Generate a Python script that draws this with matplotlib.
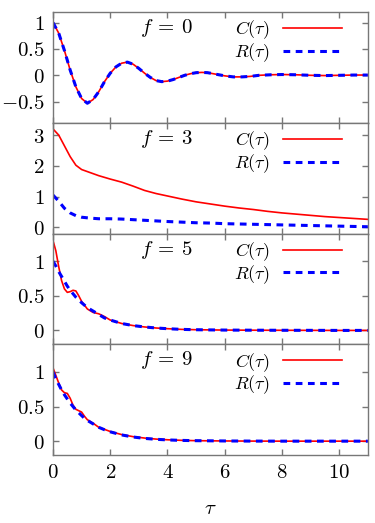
import matplotlib
matplotlib.use('Agg')
import matplotlib.pyplot as plt
import numpy as np
from matplotlib.ticker import FuncFormatter

# 数据
f_values = [0, 3, 5, 9]

# f = 0
t0 = [0.0, 0.2, 0.4, 0.6, 0.8, 1.0, 1.2, 1.4, 1.6, 1.8, 2.0, 2.2, 2.4, 2.6, 2.8, 3.0,
      3.2, 3.4, 3.6, 3.8, 4.0, 4.2, 4.4, 4.6, 4.8, 5.0, 5.2, 5.4, 5.6, 5.8, 6.0, 6.3,
      6.6, 6.9, 7.2, 7.6, 8.0, 8.5, 9.0, 9.5, 10.0, 10.5, 11.0]
c0 = [1.0, 0.80, 0.47, 0.10, -0.22, -0.44, -0.53, -0.46, -0.31, -0.12, 0.04, 0.16,
      0.23, 0.25, 0.21, 0.13, 0.04, -0.04, -0.10, -0.12, -0.11, -0.08, -0.04, 0.0,
      0.03, 0.05, 0.055, 0.05, 0.03, 0.01, -0.01, -0.03, -0.03, -0.02, 0.0, 0.01,
      0.015, 0.01, 0.0, -0.005, 0.0, 0.005, 0.005]
r0 = [1.0, 0.80, 0.47, 0.10, -0.22, -0.44, -0.53, -0.46, -0.31, -0.12, 0.04, 0.16,
      0.23, 0.25, 0.21, 0.13, 0.04, -0.04, -0.10, -0.12, -0.11, -0.08, -0.04, 0.0,
      0.03, 0.05, 0.055, 0.05, 0.03, 0.01, -0.01, -0.03, -0.03, -0.02, 0.0, 0.01,
      0.015, 0.01, 0.0, -0.005, 0.0, 0.005, 0.005]

# f = 3
t3 = [0.0, 0.2, 0.4, 0.6, 0.8, 1.0, 1.3, 1.6, 2.0, 2.4, 2.8, 3.2, 3.6, 4.0, 4.5,
      5.0, 5.5, 6.0, 6.5, 7.0, 7.5, 8.0, 8.5, 9.0, 9.5, 10.0, 10.5, 11.0]
c3 = [3.2, 3.0, 2.65, 2.3, 2.02, 1.88, 1.78, 1.68, 1.57, 1.47, 1.34, 1.2, 1.1, 1.02,
      0.92, 0.83, 0.76, 0.69, 0.63, 0.58, 0.52, 0.47, 0.43, 0.39, 0.35, 0.32, 0.29, 0.26]
r3 = [1.05, 0.85, 0.62, 0.47, 0.38, 0.33, 0.30, 0.28, 0.28, 0.27, 0.25, 0.23, 0.21,
      0.19, 0.17, 0.15, 0.14, 0.12, 0.11, 0.10, 0.09, 0.08, 0.07, 0.06, 0.05, 0.04,
      0.03, 0.02]

# f = 5
t5 = [0.0, 0.1, 0.2, 0.3, 0.4, 0.5, 0.6, 0.7, 0.8, 0.9, 1.0, 1.2, 1.4, 1.6, 1.8,
      2.0, 2.4, 2.8, 3.2, 3.6, 4.0, 4.5, 5.0, 6.0, 7.0, 8.0, 9.0, 10.0, 11.0]
c5 = [1.30, 1.15, 0.92, 0.72, 0.60, 0.55, 0.56, 0.58, 0.57, 0.50, 0.42, 0.31, 0.26,
      0.24, 0.20, 0.15, 0.10, 0.07, 0.05, 0.035, 0.025, 0.015, 0.01, 0.005, 0.003,
      0.002, 0.001, 0.0, 0.0]
r5 = [1.0, 0.93, 0.85, 0.78, 0.71, 0.64, 0.58, 0.53, 0.48, 0.44, 0.40, 0.33, 0.28,
      0.23, 0.18, 0.15, 0.10, 0.07, 0.05, 0.035, 0.025, 0.015, 0.01, 0.005, 0.003,
      0.002, 0.001, 0.0, 0.0]

# f = 9
t9 = [0.0, 0.1, 0.2, 0.3, 0.4, 0.5, 0.6, 0.7, 0.8, 0.9, 1.0, 1.1, 1.2, 1.4, 1.6,
      1.8, 2.0, 2.4, 2.8, 3.2, 3.6, 4.0, 4.5, 5.0, 6.0, 7.0, 8.0, 9.0, 10.0, 11.0]
c9 = [1.06, 0.95, 0.84, 0.74, 0.70, 0.69, 0.62, 0.52, 0.46, 0.44, 0.42, 0.36, 0.31,
      0.26, 0.20, 0.17, 0.14, 0.095, 0.065, 0.045, 0.03, 0.02, 0.012, 0.007, 0.003,
      0.001, 0.0, 0.0, 0.0, 0.0]
r9 = [1.0, 0.90, 0.82, 0.74, 0.67, 0.61, 0.55, 0.50, 0.45, 0.41, 0.37, 0.33, 0.30,
      0.25, 0.20, 0.165, 0.135, 0.09, 0.06, 0.04, 0.027, 0.018, 0.011, 0.007, 0.003,
      0.001, 0.0, 0.0, 0.0, 0.0]

times = [t0, t3, t5, t9]
cs = [c0, c3, c5, c9]
rs = [r0, r3, r5, r9]
ylims = [(-0.9, 1.2), (-0.2, 3.4), (-0.2, 1.4), (-0.2, 1.4)]
yticks = [[-0.5, 0, 0.5, 1], [0, 1, 2, 3], [0, 0.5, 1], [0, 0.5, 1]]

plt.rcParams['mathtext.fontset'] = 'cm'
plt.rcParams['font.family'] = ['DejaVu Serif']
fs = 15

frame = '#777777'
fmt = FuncFormatter(lambda v, p: '$%g$' % v)

fig, axes = plt.subplots(4, 1, sharex=True, figsize=(3.75, 5.23), dpi=100)
fig.subplots_adjust(left=0.1413, right=0.981, top=0.977, bottom=0.130, hspace=0)

for i, ax in enumerate(axes):
    ax.plot(times[i], cs[i], color='#ff0000', lw=1.2, label=r'$C(\tau)$')
    ax.plot(times[i], rs[i], color='#0000ff', lw=2.2, dashes=(2.2, 1.8), label=r'$R(\tau)$')
    ax.set_xlim(0, 11)
    ax.set_ylim(*ylims[i])
    ax.set_yticks(yticks[i])
    ax.set_xticks([0, 2, 4, 6, 8, 10])
    ax.yaxis.set_major_formatter(fmt)
    ax.xaxis.set_major_formatter(fmt)
    ax.tick_params(direction='in', top=True, right=True, length=4, width=1,
                   color=frame, labelsize=fs, pad=6)
    for s in ax.spines.values():
        s.set_color(frame)
        s.set_linewidth(1.0)
    ax.text(0.36, 0.855, r'$f\:=\:%d$' % f_values[i], transform=ax.transAxes,
            ha='center', va='center', fontsize=fs)
    ax.legend(loc='upper right', bbox_to_anchor=(0.917, 0.94), frameon=False,
              markerfirst=False, handlelength=3.27, handletextpad=0.72,
              labelspacing=0.0, fontsize=13, borderaxespad=0, borderpad=0)

axes[-1].set_xlabel(r'$\tau$', fontsize=fs, labelpad=12)

plt.savefig('out.png', dpi=100)
